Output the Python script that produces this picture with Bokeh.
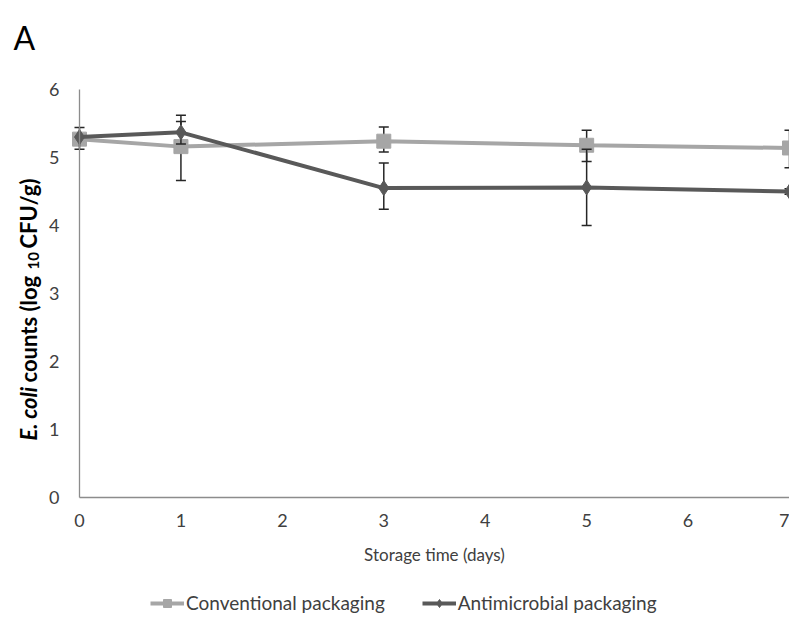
import math
from bokeh.plotting import figure
from bokeh.models import Range1d, Label, Legend, LegendItem, FixedTicker, LinearAxis
from bokeh.embed import file_html
from bokeh.resources import INLINE

# ---- data ----
days = [0, 1, 3, 5, 7]
conv_mean = [5.27, 5.16, 5.24, 5.18, 5.14]
conv_upper = [5.32, 5.62, 5.45, 5.40, 5.40]
conv_lower = [5.22, 4.66, 5.08, 4.94, 4.85]
anti_mean = [5.30, 5.37, 4.55, 4.56, 4.50]
anti_upper = [5.44, 5.53, 4.92, 5.12, 4.54]
anti_lower = [5.12, 5.20, 4.24, 4.00, 4.46]
x_ticks = [0, 1, 2, 3, 4, 5, 6, 7]
y_ticks = [0, 1, 2, 3, 4, 5, 6]
series_names = ["Conventional packaging", "Antimicrobial packaging"]
x_title = "Storage time (days)"
panel_letter = "A"

# ---- layout (pixels) ----
W, H = 789, 614
PL, PR, PT, PB = 79, 789, 89, 497      # plot area edges in canvas pixels
XMIN, XMAX, YMIN, YMAX = 0, 7, 0, 6
sx = (PR - PL) / (XMAX - XMIN)
sy = (PB - PT) / (YMAX - YMIN)
x_range = Range1d(XMIN - PL / sx, XMAX + (W - PR) / sx)
y_range = Range1d(YMIN - (H - PB) / sy, YMAX + PT / sy)

FONT = "Lato"
CONV = "#a6a6a6"
ANTI = "#595959"
ERR = "#262626"
AXIS = "#8c8c8c"
TXT = "#404040"

p = figure(width=W, height=H, output_backend="svg", toolbar_location=None,
           x_range=x_range, y_range=y_range, x_axis_location=None, y_axis_location=None,
           min_border=0)
p.outline_line_color = None
p.grid.visible = False

xaxis = LinearAxis(fixed_location=0, bounds=(XMIN, XMAX), ticker=FixedTicker(ticks=x_ticks))
yaxis = LinearAxis(fixed_location=0, bounds=(YMIN, YMAX), ticker=FixedTicker(ticks=y_ticks))
for ax in (xaxis, yaxis):
    ax.axis_line_color = AXIS
    ax.axis_line_width = 1.3
    ax.major_tick_line_color = None
    ax.minor_tick_line_color = None
    ax.major_tick_out = 0
    ax.major_tick_in = 0
    ax.major_label_text_font = FONT
    ax.major_label_text_font_size = "18px"
    ax.major_label_text_color = TXT
xaxis.major_label_standoff = 16
yaxis.major_label_standoff = 20
xaxis.axis_label = x_title
xaxis.axis_label_text_font = FONT
xaxis.axis_label_text_font_style = "normal"
xaxis.axis_label_text_font_size = "17px"
xaxis.axis_label_text_color = TXT
xaxis.axis_label_standoff = 14
p.add_layout(xaxis, "below")
p.add_layout(yaxis, "left")


def errorbars(lower, upper):
    p.segment(x0=days, y0=lower, x1=days, y1=upper, line_color=ERR, line_width=1.5)
    p.scatter(x=days, y=upper, marker="dash", size=10, line_color=ERR, line_width=1.5)
    p.scatter(x=days, y=lower, marker="dash", size=10, line_color=ERR, line_width=1.5)


errorbars(conv_lower, conv_upper)
l1 = p.line(days, conv_mean, line_color=CONV, line_width=4)
s1 = p.scatter(days, conv_mean, marker="square", size=14, fill_color=CONV, line_color=CONV)
errorbars(anti_lower, anti_upper)
l2 = p.line(days, anti_mean, line_color=ANTI, line_width=4)
s2 = p.scatter(days, anti_mean, marker="diamond", size=15, fill_color=ANTI, line_color=ANTI)

legend = Legend(items=[LegendItem(label=series_names[0], renderers=[l1, s1]),
                       LegendItem(label=series_names[1], renderers=[l2, s2])],
                orientation="horizontal", location=(150, 0),
                label_text_font=FONT, label_text_font_size="19px",
                label_text_color=TXT, glyph_width=34, glyph_height=20,
                label_standoff=2, spacing=37, padding=0, margin=0,
                border_line_color=None, background_fill_alpha=0)
p.add_layout(legend)

# panel letter (screen units: from the bottom-left corner of the canvas-wide frame)
p.add_layout(Label(x=13, y=H - 37, x_units="screen", y_units="screen", text=panel_letter,
                   text_font=FONT, text_font_size="32px", text_color="#000000",
                   text_align="left", text_baseline="alphabetic"))

# y-axis title in pieces (bold italic species name, subscript 10)
YX = 28
pieces = [("E. coli", "bold italic", "22px", 174, 0),
          ("counts (log", "bold", "22px", 232, 0),
          ("10", "bold", "15px", 345, 5),
          ("CFU/g)", "bold", "22px", 366, 0)]
for txt, style, size, yy, dx in pieces:
    p.add_layout(Label(x=YX + dx, y=yy, x_units="screen", y_units="screen", text=txt,
                       angle=math.pi / 2, text_font=FONT, text_font_style=style,
                       text_font_size=size, text_color="#000000",
                       text_align="left", text_baseline="middle"))

open("out.html", "w").write(file_html(p, INLINE))
